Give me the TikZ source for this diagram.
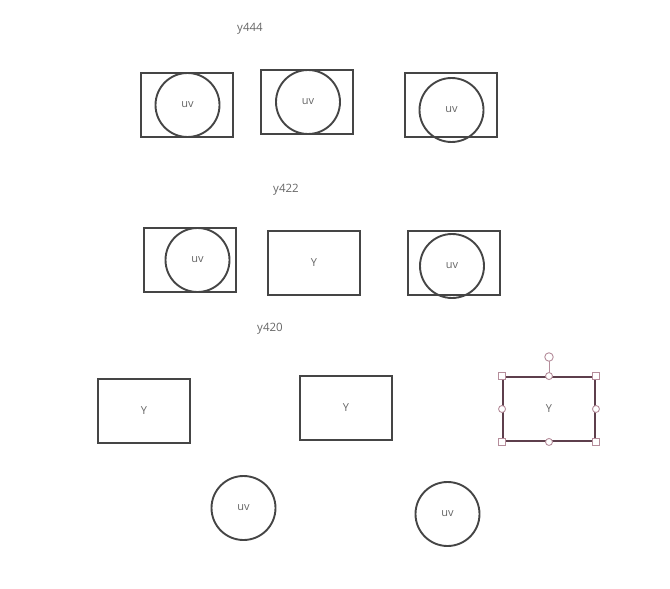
\documentclass[tikz,border=0pt]{standalone}
\usepackage{fontspec}
\setmainfont{Open Sans}
\definecolor{strk}{HTML}{454545}
\definecolor{txt}{HTML}{666666}
\definecolor{selb}{HTML}{5E3F4C}
\definecolor{selh}{HTML}{B58D9B}
\begin{document}
\begin{tikzpicture}[x=1pt,y=-1pt,
  box/.style={draw=strk,line width=1.9pt,rectangle,minimum width=92pt,minimum height=64pt,inner sep=0pt,text=txt,font=\fontsize{11}{13}\selectfont},
  disc/.style={draw=strk,line width=1.9pt,circle,minimum size=64pt,inner sep=0pt,text=txt,font=\fontsize{11}{13}\selectfont},
  lbl/.style={text=txt,font=\fontsize{11.5}{13}\selectfont,inner sep=0pt},
  selbox/.style={draw=selb,line width=1.9pt,rectangle,minimum width=92pt,minimum height=64pt,inner sep=0pt,text=txt,font=\fontsize{11}{13}\selectfont},
  hsq/.style={draw=selh,fill=white,line width=0.9pt,rectangle,minimum size=6.5pt,inner sep=0pt},
  hci/.style={draw=selh,fill=white,line width=0.9pt,circle,minimum size=7pt,inner sep=0pt},
  hrot/.style={draw=selh,fill=white,line width=0.9pt,circle,minimum size=8.5pt,inner sep=0pt}]
\useasboundingbox (0,0) rectangle (670,589);
% row 1
\node[lbl] (t1) at (250,29) {y444};
\node[box] (r1) at (187,105) {};
\node[disc] (c1) at (187.5,105) {uv};
\node[box] (r2) at (307,102) {};
\node[disc] (c2) at (308,102) {uv};
\node[box] (r3) at (451,105) {};
\node[disc] (c3) at (451.5,110) {uv};
% row 2
\node[lbl] (t2) at (286,190) {y422};
\node[box] (r4) at (190,260) {};
\node[disc] (c4) at (197.5,260) {uv};
\node[box] (r5) at (314,263) {Y};
\node[box] (r6) at (454,263) {};
\node[disc] (c6) at (452,266) {uv};
% row 3
\node[lbl] (t3) at (270,329) {y420};
\node[box] (r7) at (144,411) {Y};
\node[box] (r8) at (346,408) {Y};
\node[selbox] (r9) at (549,409) {Y};
\coordinate (rt) at (549,361);
\draw[draw=selh,line width=0.9pt] (r9.north) -- (rt);
\node[hrot] (h0) at (549,357) {};
\node[hsq] (h1) at (r9.north west) {};
\node[hsq] (h2) at (r9.north east) {};
\node[hsq] (h3) at (r9.south west) {};
\node[hsq] (h4) at (r9.south east) {};
\node[hci] (h5) at (r9.north) {};
\node[hci] (h6) at (r9.south) {};
\node[hci] (h7) at (r9.west) {};
\node[hci] (h8) at (r9.east) {};
% row 4
\node[disc] (c7) at (243.5,508) {uv};
\node[disc] (c8) at (447.5,514) {uv};
\end{tikzpicture}
\end{document}
